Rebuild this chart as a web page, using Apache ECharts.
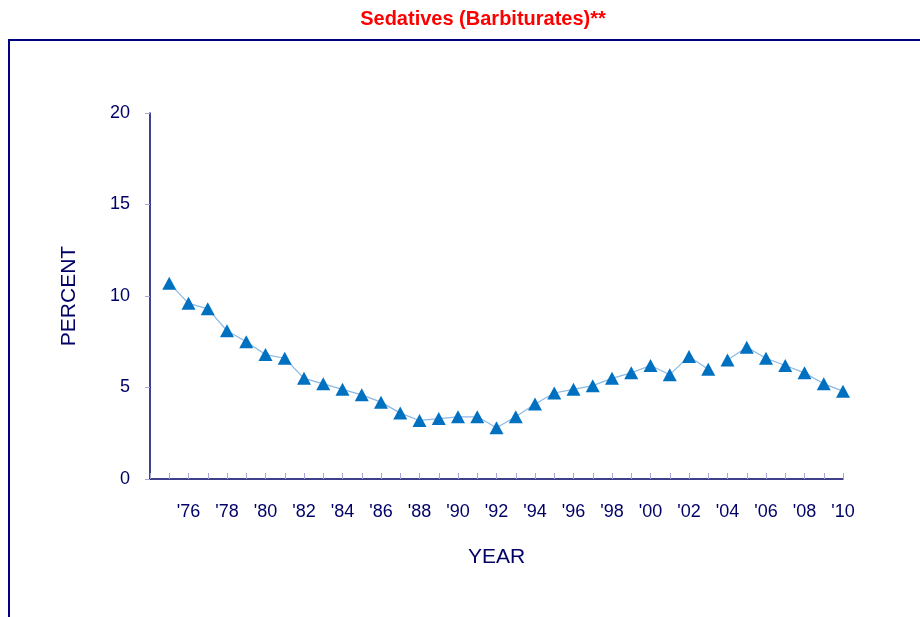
<!DOCTYPE html>
<html>
<head>
<meta charset="utf-8">
<script src="https://cdn.jsdelivr.net/npm/echarts@6/dist/echarts.min.js"></script>
<style>
  html, body { margin: 0; padding: 0; background: #fff; }
  #chart { width: 920px; height: 617px; }
</style>
</head>
<body>
<div id="chart"></div>
<script>
  // two runs, question wording changed between 2003 and 2004
  const yearsA = [1975, 1976, 1977, 1978, 1979, 1980, 1981, 1982, 1983, 1984, 1985, 1986, 1987, 1988, 1989,
    1990, 1991, 1992, 1993, 1994, 1995, 1996, 1997, 1998, 1999, 2000, 2001, 2002, 2003]
  const valuesA = [10.7, 9.6, 9.3, 8.1, 7.5, 6.8, 6.6, 5.5, 5.2, 4.9, 4.6, 4.2, 3.6, 3.2, 3.3,
    3.4, 3.4, 2.8, 3.4, 4.1, 4.7, 4.9, 5.1, 5.5, 5.8, 6.2, 5.7, 6.7, 6.0]
  const yearsB = [2004, 2005, 2006, 2007, 2008, 2009, 2010]
  const valuesB = [6.5, 7.2, 6.6, 6.2, 5.8, 5.2, 4.8]
  const yTicks = [0, 5, 10, 15, 20]

  const navy = '#000066'
  const tickColor = '#a8a8d8'
  const font = '"Liberation Sans", Arial, sans-serif'

  const chart = echarts.init(document.getElementById('chart'))

  const lineSeries = (years, values) => ({
    type: 'line',
    data: years.map((y, i) => [y, values[i]]),
    symbol: 'triangle',
    symbolSize: [14, 13],
    lineStyle: { color: '#8ab8e6', width: 1.2 },
    itemStyle: { color: '#0070c0' },
    animation: false
  })

  chart.setOption({
    backgroundColor: '#fff',
    title: {
      text: 'Sedatives (Barbiturates)**',
      left: 478,
      top: 4,
      textAlign: 'center',
      textStyle: { color: '#ff0000', fontSize: 20, fontWeight: 'bold', fontFamily: font }
    },
    graphic: [
      {
        type: 'rect',
        shape: { x: 9, y: 40, width: 940, height: 640 },
        style: { fill: 'none', stroke: '#000080', lineWidth: 2 },
        silent: true
      }
    ],
    grid: { left: 150, right: 77, top: 113, bottom: 138 },
    xAxis: {
      type: 'value',
      min: 1974,
      max: 2010,
      interval: 1,
      name: 'YEAR',
      nameLocation: 'middle',
      nameGap: 68,
      nameTextStyle: { color: navy, fontSize: 21, fontFamily: font },
      axisLine: { lineStyle: { color: navy, width: 1.5 } },
      axisTick: { show: true, inside: true, length: 6, lineStyle: { color: tickColor } },
      splitLine: { show: false },
      axisLabel: {
        color: navy,
        fontSize: 18,
        fontFamily: font,
        margin: 24,
        formatter: v => (v % 2 === 0 && v > 1974) ? "'" + String(v).slice(2) : ''
      }
    },
    yAxis: {
      type: 'value',
      min: yTicks[0],
      max: yTicks[yTicks.length - 1],
      interval: 5,
      name: 'PERCENT',
      nameLocation: 'middle',
      nameGap: 70,
      nameRotate: 90,
      nameTextStyle: { color: navy, fontSize: 21, fontFamily: font },
      axisLine: { show: true, lineStyle: { color: navy, width: 1.5 } },
      axisTick: { show: true, length: 5, lineStyle: { color: tickColor } },
      splitLine: { show: false },
      axisLabel: { color: navy, fontSize: 18, fontFamily: font, margin: 20 }
    },
    series: [lineSeries(yearsA, valuesA), lineSeries(yearsB, valuesB)]
  })
</script>
</body>
</html>
